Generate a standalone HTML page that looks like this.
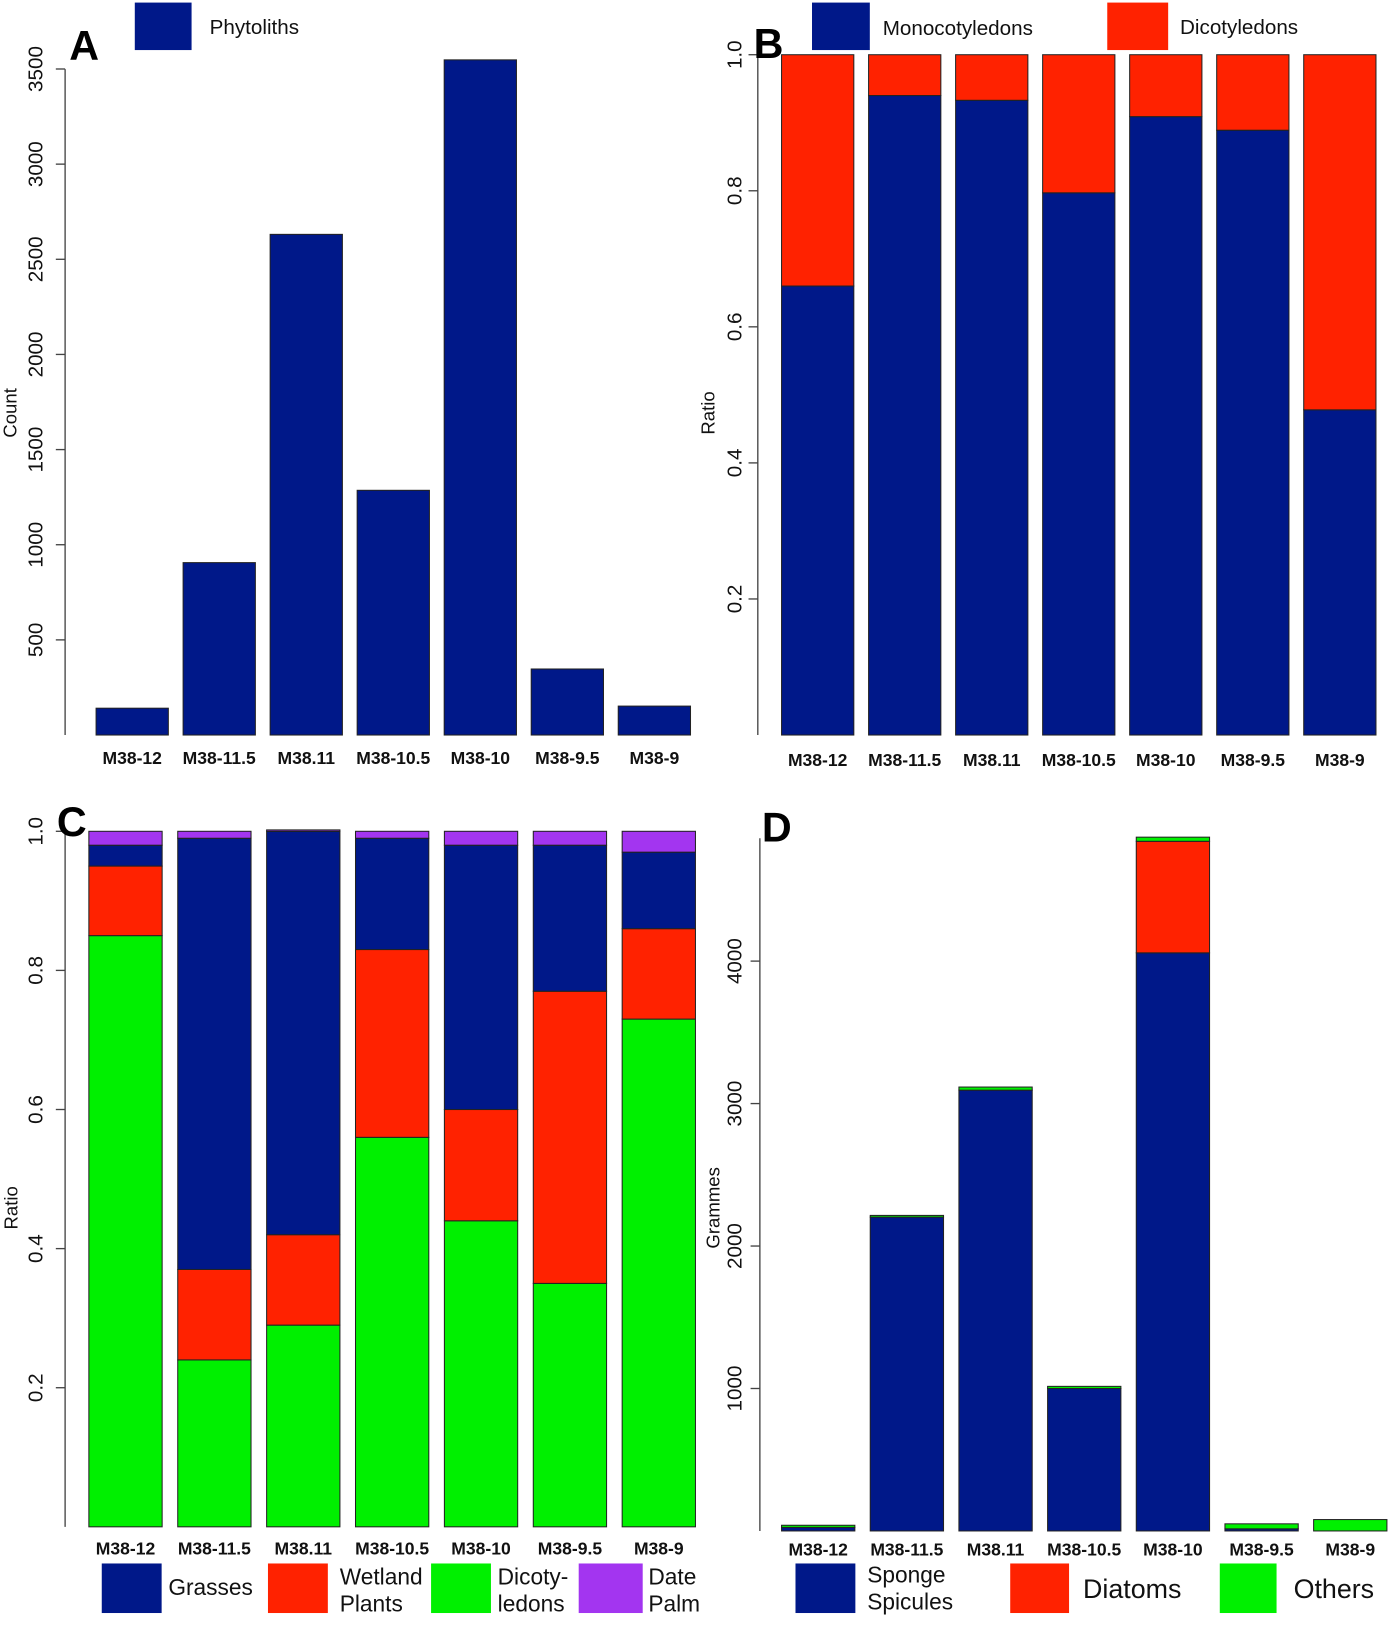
<!DOCTYPE html>
<html><head><meta charset="utf-8"><style>
html,body{margin:0;padding:0;background:#fff;}
svg{display:block;font-family:"Liberation Sans",Arial,sans-serif;}
</style></head><body>
<svg id="chart" width="1400" height="1628" viewBox="0 0 1356 1577" xmlns="http://www.w3.org/2000/svg"></svg>
<script>
const categories = ["M38-12","M38-11.5","M38.11","M38-10.5","M38-10","M38-9.5","M38-9"];
// Panel A
const phytolithCounts = [141, 906, 2631, 1286, 3548, 347, 152];
const aTicks = [500,1000,1500,2000,2500,3000,3500];
// Panel B
const monocotRatio = [0.66, 0.94, 0.933, 0.797, 0.909, 0.889, 0.478];
const dicotRatio = [0.34, 0.06, 0.067, 0.203, 0.091, 0.111, 0.522];
const ratioTicks = [0.2,0.4,0.6,0.8,1.0];
// Panel C
const dicotC = [0.85, 0.24, 0.29, 0.56, 0.44, 0.35, 0.73];
const wetlandC = [0.10, 0.13, 0.13, 0.27, 0.16, 0.42, 0.13];
const grassesC = [0.03, 0.62, 0.58, 0.16, 0.38, 0.21, 0.11];
const datePalmC = [0.02, 0.01, 0.002, 0.01, 0.02, 0.02, 0.03];
// Panel D
const spongeD = [25, 2203, 3094, 1000, 4058, 15, 0];
const diatomsD = [0, 0, 0, 0, 783, 0, 0];
const othersD = [15, 12, 22, 15, 29, 35, 80];
const dTicks = [1000,2000,3000,4000];

const NS="http://www.w3.org/2000/svg";
const svg=document.getElementById('chart');
function el(tag,attrs,parent){const e=document.createElementNS(NS,tag);for(const k in attrs)e.setAttribute(k,attrs[k]);(parent||svg).appendChild(e);return e;}
function txt(s,attrs,parent){const e=el('text',attrs,parent);e.textContent=s;return e;}
const BLUE="#001889",RED="#ff2200",GREEN="#00f000",PURPLE="#a335f0";

function panel(cfg){
  const g=el('g',{});
  
  
  const y=v=>cfg.y0-v*cfg.scale;
  const ax=el('line',{x1:cfg.axX,x2:cfg.axX,y1:cfg.axTop,y2:cfg.y0,stroke:'#444','stroke-width':1.3},g);
  
  
  cfg.ticks.forEach(t=>{
    const ty=y(t);
    el('line',{x1:cfg.axX-9,x2:cfg.axX,y1:ty,y2:ty,stroke:'#444','stroke-width':1.3},g);
    const lx=cfg.axX-cfg.labOff;
    const lab=txt(cfg.fmt(t),{x:lx,y:ty,'font-size':20,'text-anchor':'middle','dominant-baseline':'central',transform:`rotate(-90 ${lx} ${ty})`,fill:'#111'},g);
    
    
  });
  categories.forEach((c,i)=>{
    const bx=cfg.x0+i*cfg.step;
    let base=0;
    cfg.series.forEach(s=>{
      const v=s.vals[i];
      if(v<=0)return;
      const r=el('rect',{x:bx,y:y(base+v),width:cfg.bw,height:v*cfg.scale,fill:s.color,stroke:'#222','stroke-width':1},g);
      
      
      base+=v;
    });
    const l=txt(c,{x:bx+cfg.bw/2,y:cfg.labY,'font-size':17,'font-weight':'bold','text-anchor':'middle',fill:'#111'},g);
    
    
  });
  const t=txt(cfg.title,{x:cfg.titleX,y:cfg.titleY,'text-anchor':'middle','font-size':18,transform:`rotate(-90 ${cfg.titleX} ${cfg.titleY})`,fill:'#111'},g);
  
  
  const p=txt(cfg.letter,{x:cfg.letX,y:cfg.letY,'font-size':40,'font-weight':'bold',fill:'#000'},g);
  
  
  cfg.legend.forEach(L=>{
    const r=el('rect',{x:L.x,y:L.y,width:L.w,height:L.h,fill:L.color,stroke:L.color},g);
    
    
    L.lines.forEach((s,k)=>{
      const tt=txt(s,{x:L.tx,y:L.ty+k*26,'font-size':L.fs,fill:'#111'},g);
      
      
    });
  });
}

panel({name:'panel-a',axX:63,labOff:28,axTop:67,y0:712,scale:553/3000,x0:93,step:84.3,bw:70,labY:740,ticks:aTicks,fmt:t=>String(t),
  series:[{key:'phytoliths',vals:phytolithCounts,color:BLUE}],title:'Count',titleX:16,titleY:400,letter:'A',letX:67,letY:58,
  legend:[{x:131,y:3,w:54,h:45,color:BLUE,lines:['Phytoliths'],tx:203,ty:33,fs:20}]});

panel({name:'panel-b',axX:734,labOff:22,axTop:53,y0:712,scale:659,x0:757,step:84.3,bw:70,labY:742,ticks:ratioTicks,fmt:t=>t.toFixed(1),
  series:[{key:'monocot',vals:monocotRatio,color:BLUE},{key:'dicot',vals:dicotRatio,color:RED}],title:'Ratio',titleX:692,titleY:400,letter:'B',letX:730,letY:56,
  legend:[{x:787,y:3,w:55,h:45,color:BLUE,lines:['Monocotyledons'],tx:855,ty:34,fs:20},{x:1073,y:3,w:58,h:45,color:RED,lines:['Dicotyledons'],tx:1143,ty:33,fs:20}]});

panel({name:'panel-c',axX:63,labOff:28,axTop:806,y0:1479,scale:673.75,x0:86,step:86.1,bw:71,labY:1506,ticks:ratioTicks,fmt:t=>t.toFixed(1),
  series:[{key:'dicot',vals:dicotC,color:GREEN},{key:'wetland',vals:wetlandC,color:RED},{key:'grasses',vals:grassesC,color:BLUE},{key:'date-palm',vals:datePalmC,color:PURPLE}],
  title:'Ratio',titleX:17,titleY:1170,letter:'C',letX:55,letY:810,
  legend:[{x:99,y:1515,w:57,h:47,color:BLUE,lines:['Grasses'],tx:163,ty:1545,fs:22},
    {x:260,y:1515,w:57,h:47,color:RED,lines:['Wetland','Plants'],tx:329,ty:1535,fs:22},
    {x:418,y:1515,w:57,h:47,color:GREEN,lines:['Dicoty-','ledons'],tx:482,ty:1535,fs:22},
    {x:561,y:1515,w:61,h:47,color:PURPLE,lines:['Date','Palm'],tx:628,ty:1535,fs:22}]});

panel({name:'panel-d',axX:736,labOff:24,axTop:812,y0:1483,scale:0.138,x0:757,step:85.9,bw:71,labY:1507,ticks:dTicks,fmt:t=>String(t),
  series:[{key:'sponge',vals:spongeD,color:BLUE},{key:'diatoms',vals:diatomsD,color:RED},{key:'others',vals:othersD,color:GREEN}],
  title:'Grammes',titleX:697,titleY:1170,letter:'D',letX:738,letY:815,
  legend:[{x:771,y:1515,w:57,h:47,color:BLUE,lines:['Sponge','Spicules'],tx:840,ty:1533,fs:22},
    {x:979,y:1515,w:56,h:47,color:RED,lines:['Diatoms'],tx:1049,ty:1548,fs:26},
    {x:1182,y:1515,w:54,h:47,color:GREEN,lines:['Others'],tx:1253,ty:1548,fs:26}]});
</script>
</body></html>
